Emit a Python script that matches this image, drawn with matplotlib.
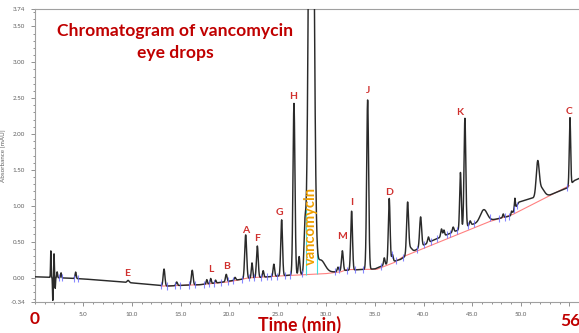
import numpy as np
import matplotlib
matplotlib.use('Agg')
from matplotlib import pyplot as plt
from matplotlib.ticker import MultipleLocator

# trace baseline knots (time [min], absorbance)
base_t = [0, 2, 5, 8, 10, 12, 13.5, 15, 17, 19, 21, 22, 25, 30, 31, 32, 35,
          36.8, 37.6, 40, 41, 43, 45, 47, 49, 49.8, 51, 53, 54.8, 55.5, 56]
base_v = [0.01, 0.0, -0.02, -0.05, -0.075, -0.10, -0.12, -0.11, -0.10, -0.07,
          -0.03, -0.01, 0.02, 0.07, 0.08, 0.10, 0.12, 0.22, 0.25, 0.45, 0.52,
          0.63, 0.74, 0.80, 0.86, 1.05, 1.10, 1.15, 1.25, 1.35, 1.38]

# peak table: retention time, height above baseline, width (sigma)
peak_t = [1.65, 1.85, 1.98, 2.1, 2.3, 2.7, 4.2, 9.6, 13.3, 14.6, 16.2, 17.7,
          18.1, 18.6, 19.7, 20.6, 21.7, 22.35, 22.9, 23.5, 24.6, 25.4, 26.67,
          27.2, 27.8, 28.45, 29.4, 31.2, 31.65, 32.6, 34.25, 35.96, 36.47,
          36.8, 38.36, 38.6, 39.7, 40.5, 41.85, 42.1, 43.05, 43.8, 44.26,
          44.8, 46.2, 48.2, 49.06, 49.4, 51.75, 52.1, 55.07]
peak_h = [0.37, -0.32, 0.33, -0.15, 0.08, 0.07, 0.09, 0.03, 0.235, 0.05, 0.205,
          0.06, 0.07, 0.04, 0.10, 0.04, 0.61, 0.21, 0.44, 0.09, 0.17, 0.78, 2.39,
          0.25, 0.6, 10.0, 0.18, 0.06, 0.28, 0.82, 2.36, 0.10, 0.90, 0.10, 0.70,
          0.08, 0.42, 0.08, 0.11, 0.08, 0.07, 0.79, 1.52, 0.06, 0.17, 0.05, 0.05,
          0.15, 0.45, 0.12, 0.94]
peak_s = [0.03, 0.03, 0.03, 0.03, 0.04, 0.05, 0.06, 0.1, 0.09, 0.08, 0.09, 0.06,
          0.06, 0.06, 0.08, 0.08, 0.1, 0.07, 0.09, 0.07, 0.08, 0.09, 0.1, 0.08,
          0.1, 0.23, 0.45, 0.08, 0.09, 0.09, 0.1, 0.07, 0.09, 0.08, 0.1, 0.2,
          0.1, 0.08, 0.08, 0.07, 0.08, 0.08, 0.09, 0.08, 0.35, 0.06, 0.06, 0.05,
          0.15, 0.3, 0.07]

# integration baseline (red)
intb_t = [13.0, 17, 20, 22, 25, 30, 31.5, 32.1, 35.2, 37.0, 37.9, 46.8, 49.2, 55]
intb_v = [-0.12, -0.10, -0.06, -0.005, 0.02, 0.055, 0.08, 0.11, 0.115, 0.21,
          0.29, 0.78, 0.88, 1.28]

# peak start/end markers (blue)
mark_t = [2.5, 2.8, 4.0, 4.4, 13.0, 13.6, 14.4, 14.9, 15.9, 16.5, 17.4, 17.9,
          18.4, 19.2, 19.9, 20.4, 21.3, 22.0, 22.6, 23.3, 23.9, 24.3, 24.9,
          25.7, 26.3, 27.5, 30.9, 31.3, 32.1, 32.9, 33.8, 35.6, 36.8, 37.2,
          37.9, 39.3, 40.0, 40.8, 41.4, 42.4, 42.7, 43.4, 44.6, 45.2, 46.8,
          47.8, 48.4, 48.8, 49.3, 49.6, 54.8]

# cyan drop lines of the vancomycin peak
drop_t = [27.9, 29.05]

labels = ['E', 'L', 'B', 'A', 'F', 'G', 'H', 'M', 'I', 'J', 'D', 'K', 'C']
label_t = [9.5, 18.1, 19.7, 21.7, 22.9, 25.2, 26.6, 31.6, 32.6, 34.25, 36.5, 43.7, 55.0]
label_y = [0.06, 0.11, 0.15, 0.66, 0.54, 0.91, 2.52, 0.57, 1.05, 2.60, 1.19, 2.30, 2.31]

x_ticks = [5, 10, 15, 20, 25, 30, 35, 40, 45, 50, 55]
x_tick_labels = ['5.0', '10.0', '15.0', '20.0', '25.0', '30.0', '35.0',
                 '40.0', '45.0', '50.0', '']
y_ticks = [-0.34, 0.0, 0.5, 1.0, 1.5, 2.0, 2.5, 3.0, 3.5, 3.74]

t = np.linspace(0, 56, 8001)


def trace(tt):
    y = np.interp(tt, base_t, base_v)
    for p, h, s in zip(peak_t, peak_h, peak_s):
        y = y + h * np.exp(-0.5 * ((tt - p) / s) ** 2)
    return y


plt.rcParams['font.family'] = ['Lato', 'DejaVu Sans']
fig = plt.figure(figsize=(5.79, 3.33), dpi=100)
ax = fig.add_axes([0.0601, 0.0934, 0.9399, 0.879])

y = trace(t)
ax.plot(intb_t, intb_v, color='#ff8080', lw=0.8, zorder=2)
ax.plot(t, y, color='#2a2a2a', lw=1.05, zorder=3)

mt = np.array(mark_t)
my = trace(mt)
ax.vlines(mt, my - 0.05, my + 0.05, color='#6a6aff', lw=0.8, alpha=0.8, zorder=4)

dt = np.array(drop_t)
ax.vlines(dt, np.interp(dt, intb_t, intb_v), np.minimum(trace(dt), 3.74),
          color='#40e0e0', lw=0.8, zorder=2)

for lab, lt, ly in zip(labels, label_t, label_y):
    ax.text(lt, ly, lab, color='#d0302e', fontsize=7.5, fontweight='bold',
            ha='center', va='center', zorder=5)
ax.text(28.45, 0.72, 'vancomycin', color='#f0a000', fontsize=10.5,
        fontweight='bold', rotation=90, ha='center', va='center', zorder=5)

ax.set_xlim(0, 56)
ax.set_ylim(-0.34, 3.74)
ax.set_xticks(x_ticks)
ax.set_xticklabels(x_tick_labels)
ax.set_yticks(y_ticks)
ax.set_yticklabels(['%.2f' % v for v in y_ticks])
ax.xaxis.set_minor_locator(MultipleLocator(1))
ax.yaxis.set_minor_locator(MultipleLocator(0.1))
ax.tick_params(which='both', direction='out', color='#808080', width=0.6,
               labelsize=4.5, labelcolor='#606060', pad=4)
ax.tick_params(which='major', length=3)
ax.tick_params(which='minor', length=1.5)
ax.spines['right'].set_visible(False)
for side in ['left', 'bottom', 'top']:
    ax.spines[side].set_color('#a0a0a0')
    ax.spines[side].set_linewidth(0.8)
ax.set_ylabel('Absorbance [mAU]', fontsize=4.5, color='#606060', labelpad=3)

fig.text(175 / 579, 1 - 31 / 333, 'Chromatogram of vancomycin', color='#c00000',
         fontsize=12.6, fontweight='bold', ha='center', va='center')
fig.text(175 / 579, 1 - 53 / 333, 'eye drops', color='#c00000',
         fontsize=12.6, fontweight='bold', ha='center', va='center')
fig.text(35 / 579, 1 - 319 / 333, '0', color='#c00000', fontsize=12.5,
         fontweight='bold', ha='center', va='center')
fig.text(300 / 579, 1 - 325 / 333, 'Time (min)', color='#c00000', fontsize=12.8,
         fontweight='bold', ha='center', va='center')
fig.text(570 / 579, 1 - 321 / 333, '56', color='#c00000', fontsize=12.5,
         fontweight='bold', ha='center', va='center')

fig.savefig('out.png', dpi=100)
